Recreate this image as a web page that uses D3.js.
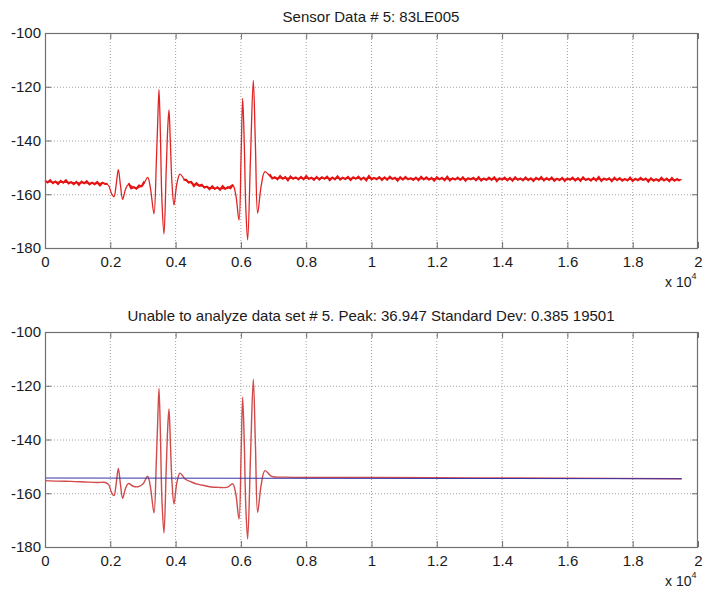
<!DOCTYPE html>
<html>
<head>
<meta charset="utf-8">
<script src="https://cdn.jsdelivr.net/npm/d3@7"></script>
<style>
  body { margin: 0; background: #fff; }
  svg { display: block; }
  text { font-family: "Liberation Sans", Arial, Helvetica, sans-serif; fill: #1a1a1a; }
</style>
</head>
<body>
<svg id="chart" width="705" height="592"></svg>
<script>
// Sensor record: 19501 samples, level in dB
const xTicks = [0, 2000, 4000, 6000, 8000, 10000, 12000, 14000, 16000, 18000, 20000];
const xTickLabels = ["0", "0.2", "0.4", "0.6", "0.8", "1", "1.2", "1.4", "1.6", "1.8", "2"];
const yTicks = [-100, -120, -140, -160, -180];
const yTickLabels = ["-100", "-120", "-140", "-160", "-180"];
const topTitle = "Sensor Data # 5: 83LE005";
const bottomTitle = "Unable to analyze data set # 5. Peak: 36.947 Standard Dev: 0.385 19501";

// Smooth signal shape: [sample index, level]
const signal = [
  [0, -155.3], [400, -155.5], [800, -155.6], [1200, -155.8], [1600, -156.0], [1850, -156.0],
  [1950, -156.8], [2040, -159.8], [2113, -160.9], [2180, -156.4], [2246, -150.8], [2310, -156.6],
  [2379, -161.9], [2460, -158.4], [2552, -156.4], [2700, -157.4], [2850, -157.6], [3000, -156.6],
  [3144, -153.7], [3230, -157.8], [3338, -167.3], [3410, -148.0], [3450, -134.0],
  [3491, -121.0], [3535, -138.0], [3580, -162.0], [3644, -174.8], [3715, -150.0], [3765, -134.0],
  [3798, -128.6], [3840, -141.0], [3890, -156.0], [3951, -164.0], [4040, -156.0],
  [4135, -152.5], [4288, -154.7], [4500, -155.9], [4700, -156.7], [4900, -157.2], [5100, -157.7],
  [5308, -157.8], [5500, -157.9], [5614, -157.6], [5748, -156.5], [5840, -160.0], [5942, -169.6],
  [6005, -146.0], [6054, -124.3], [6105, -142.0], [6150, -165.0], [6207, -177.0],
  [6295, -146.0], [6380, -117.6], [6445, -142.0], [6513, -167.1], [6620, -157.0], [6738, -151.6],
  [6942, -153.7], [7350, -154.0], [10000, -154.1], [13000, -154.3], [16000, -154.4], [19500, -154.6]
];

// Measurement jitter sampled every 80 samples (dB)
const rippleStep = 80;
const ripple = [
  0.4,-0.3,0.6,-0.5,0.2,-0.7,0.5,-0.2,0.8,-0.4,0.1,-0.6,0.3,-0.8,0.5,-0.1,0.7,-0.5,0.2,-0.3,
  0.6,-0.7,0.3,-0.2,0.5,-0.6,0.9,-0.4,0.2,-0.5,0.4,-0.3,0.6,-0.8,0.1,-0.4,0.7,-0.2,0.5,-0.6,
  0.3,-0.5,0.8,-0.3,0.4,-0.7,0.2,-0.4,0.6,-0.5,0.5,-0.2,0.7,-0.6,0.3,-0.3,0.4,-0.8,0.6,-0.1,
  0.5,-0.4,0.2,-0.6,0.7,-0.3,0.4,-0.5,0.9,-0.2,0.3,-0.7,0.5,-0.4,0.6,-0.5,0.2,-0.3,0.8,-0.6,
  0.4,-0.2,0.6,-0.7,0.3,-0.5,0.5,-0.4,0.1,-0.6,0.7,-0.3,0.4,-0.8,0.6,-0.2,0.3,-0.5,0.5,-0.4,
  0.8,-0.3,0.2,-0.6,0.5,-0.5,0.4,-0.2,0.6,-0.7,0.3,-0.4,0.7,-0.5,0.2,-0.3,0.5,-0.6,0.4,-0.2,
  0.6,-0.5,0.3,-0.7,0.9,-0.4,0.2,-0.3,0.5,-0.6,0.4,-0.5,0.7,-0.2,0.3,-0.8,0.5,-0.4,0.6,-0.3,
  0.2,-0.5,0.4,-0.6,0.7,-0.3,0.5,-0.4,0.3,-0.7,0.6,-0.2,0.4,-0.5,0.8,-0.6,0.2,-0.3,0.5,-0.4,
  0.6,-0.7,0.3,-0.2,0.4,-0.5,0.7,-0.6,0.2,-0.4,0.5,-0.3,0.6,-0.8,0.3,-0.2,0.5,-0.5,0.4,-0.6,
  0.7,-0.3,0.2,-0.5,0.6,-0.4,0.3,-0.7,0.5,-0.2,0.8,-0.5,0.4,-0.3,0.6,-0.6,0.2,-0.4,0.5,-0.7,
  0.3,-0.2,0.6,-0.5,0.4,-0.6,0.7,-0.3,0.2,-0.5,0.5,-0.4,0.9,-0.6,0.3,-0.2,0.4,-0.7,0.6,-0.3,
  0.5,-0.5,0.2,-0.4,0.7,-0.6,0.3,-0.3,0.6,-0.2,0.4,-0.8,0.5,-0.4,0.2,-0.5,0.7,-0.3,0.4,-0.6,
  0.6,-0.4,0.3,-0.5,0.5
];
// Stretches where the jitter is visible around a slow baseline
const quietSpans = [[0, 1940], [2500, 3100], [4170, 5760], [6830, 19500]];

// Fitted baseline shown in the analysis panel
const fitLine = [[0, -154.35], [19500, -154.6]];

const svg = d3.select("#chart");
const left = 45, right = 698;

const x = d3.scaleLinear().domain([0, 20000]).range([left, right]);

function baseAt(s) {
  const i = d3.bisector(d => d[0]).right(signal, s);
  if (i <= 0) return signal[0][1];
  if (i >= signal.length) return signal[signal.length - 1][1];
  const a = signal[i - 1], b = signal[i];
  return a[1] + (b[1] - a[1]) * (s - a[0]) / (b[0] - a[0]);
}
const jittered = ripple.map((r, i) => [i * rippleStep, r]);
const inQuiet = s => quietSpans.some(([a, b]) => s >= a && s <= b);

function panel(top, bottom, title, kind) {
  const y = d3.scaleLinear().domain([-180, -100]).range([bottom, top]);
  const g = svg.append("g");

  // grid
  g.append("g").selectAll("line").data(xTicks.slice(1, -1)).join("line")
    .attr("x1", d => x(d)).attr("x2", d => x(d)).attr("y1", top).attr("y2", bottom)
    .attr("stroke", "#a0a0a0").attr("stroke-width", 1).attr("stroke-dasharray", "1,2");
  g.append("g").selectAll("line").data(yTicks.slice(1, -1)).join("line")
    .attr("y1", d => y(d) + 0.5).attr("y2", d => y(d) + 0.5).attr("x1", left).attr("x2", right)
    .attr("stroke", "#a0a0a0").attr("stroke-width", 1).attr("stroke-dasharray", "1,2");

  const line = d3.line().x(d => x(d[0])).y(d => y(d[1])).curve(d3.curveCatmullRom.alpha(0.5));

  if (kind === "raw") {
    g.append("path").datum(signal).attr("d", line)
      .attr("fill", "none").attr("stroke", "#e02424").attr("stroke-width", 1.3);
    const noisy = d3.line()
      .defined(d => inQuiet(d[0]))
      .x(d => x(d[0])).y(d => y(baseAt(d[0]) + d[1]));
    g.append("path").datum(jittered).attr("d", noisy)
      .attr("fill", "none").attr("stroke", "#e51010").attr("stroke-width", 2);
  } else {
    g.append("path").datum(signal).attr("d", line)
      .attr("fill", "none").attr("stroke", "#d24a4a").attr("stroke-width", 1.4);
    g.append("path").datum(fitLine).attr("d", d3.line().x(d => x(d[0])).y(d => y(d[1])))
      .attr("fill", "none").attr("stroke", "#3434aa").attr("stroke-width", 1.1);
  }

  // axes with inward ticks
  const ax = g.append("g").attr("transform", `translate(0,${bottom})`)
    .call(d3.axisBottom(x).tickValues(xTicks).tickFormat((d, i) => xTickLabels[i])
      .tickSizeInner(-6).tickSizeOuter(0).tickPadding(8));
  const axTop = g.append("g").attr("transform", `translate(0,${top})`)
    .call(d3.axisTop(x).tickValues(xTicks).tickFormat("").tickSizeInner(-6).tickSizeOuter(0));
  const ay = g.append("g").attr("transform", `translate(${left},0)`)
    .call(d3.axisLeft(y).tickValues(yTicks).tickFormat((d, i) => yTickLabels[i])
      .tickSizeInner(-6).tickSizeOuter(0).tickPadding(4));
  const ayR = g.append("g").attr("transform", `translate(${right},0)`)
    .call(d3.axisRight(y).tickValues(yTicks).tickFormat("").tickSizeInner(-6).tickSizeOuter(0));
  [ax, axTop, ay, ayR].forEach(a => {
    a.select(".domain").remove();
    a.selectAll("line").attr("stroke", "#6e6e6e");
    a.selectAll("text").attr("font-size", 15).attr("fill", "#1a1a1a")
      .attr("font-family", '"Liberation Sans", Arial, sans-serif');
  });

  g.append("rect").attr("x", left + 0.5).attr("y", top + 0.5)
    .attr("width", right - left - 1).attr("height", bottom - top)
    .attr("fill", "none").attr("stroke", "#707070").attr("stroke-width", 1.2);

  // title
  g.append("text").attr("x", 371).attr("y", top - 11).attr("text-anchor", "middle")
    .attr("font-size", 15).text(title);

  // exponent label
  const ex = g.append("text").attr("x", 665).attr("y", bottom + 39).attr("font-size", 14);
  ex.append("tspan").text("x 10");
  ex.append("tspan").attr("font-size", 9).attr("dy", -8).text("4");
}

panel(33, 248, topTitle, "raw");
panel(332, 547, bottomTitle, "fit");
</script>
</body>
</html>
